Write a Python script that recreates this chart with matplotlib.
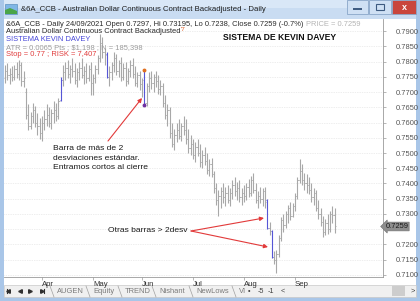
import matplotlib

matplotlib.use("Agg")
import matplotlib.pyplot as plt  # noqa: E402
from matplotlib.patches import Rectangle, Polygon  # noqa: E402
import pandas as pd  # noqa: E402

# ---- data ----
dates = pd.bdate_range("2021-03-10", "2021-09-24")

opens = [
    0.7745, 0.7770, 0.7755, 0.7760, 0.7750, 0.7775, 0.7760, 0.7790, 0.7735, 0.7700, 0.7625, 0.7590, 0.7620, 0.7640, 0.7600, 0.7590,
    0.7565, 0.7600, 0.7610, 0.7625, 0.7600, 0.7630, 0.7640, 0.7620, 0.7675, 0.7740, 0.7765, 0.7780, 0.7760, 0.7775, 0.7770, 0.7740, 0.7765, 0.7780, 0.7755, 0.7770, 0.7745, 0.7775,
    0.7730, 0.7745, 0.7775, 0.7810, 0.7860, 0.7830, 0.7826, 0.7750, 0.7765, 0.7790, 0.7810, 0.7770, 0.7795, 0.7750, 0.7780, 0.7735, 0.7770, 0.7790, 0.7760, 0.7730, 0.7755,
    0.7725, 0.7768, 0.7665, 0.7720, 0.7745, 0.7730, 0.7750, 0.7735, 0.7710, 0.7720, 0.7665, 0.7625, 0.7640, 0.7565, 0.7530, 0.7560, 0.7575, 0.7555, 0.7590, 0.7575, 0.7545, 0.7515,
    0.7530, 0.7495, 0.7520, 0.7500, 0.7470, 0.7495, 0.7475, 0.7445, 0.7465, 0.7430, 0.7385, 0.7345, 0.7360, 0.7375, 0.7355, 0.7370, 0.7345, 0.7370, 0.7395, 0.7375, 0.7385, 0.7355,
    0.7370, 0.7360, 0.7390, 0.7370, 0.7410, 0.7380, 0.7345, 0.7360, 0.7350, 0.7375, 0.7345, 0.7255, 0.7245, 0.7160, 0.7150, 0.7170, 0.7220, 0.7280, 0.7265, 0.7300, 0.7320, 0.7295,
    0.7325, 0.7360, 0.7410, 0.7440, 0.7410, 0.7400, 0.7395, 0.7380, 0.7355, 0.7370, 0.7320, 0.7300, 0.7275, 0.7240, 0.7270, 0.7250, 0.7300, 0.7297,
]
highs = [
    0.7790, 0.7795, 0.7780, 0.7785, 0.7790, 0.7800, 0.7805, 0.7800, 0.7770, 0.7712, 0.7660, 0.7635, 0.7665, 0.7655, 0.7630, 0.7615,
    0.7620, 0.7640, 0.7660, 0.7650, 0.7645, 0.7670, 0.7665, 0.7680, 0.7748, 0.7790, 0.7800, 0.7805, 0.7790, 0.7810, 0.7795, 0.7780, 0.7800, 0.7810, 0.7785, 0.7795, 0.7790, 0.7800,
    0.7760, 0.7790, 0.7820, 0.7890, 0.7880, 0.7845, 0.7830, 0.7785, 0.7800, 0.7830, 0.7825, 0.7805, 0.7815, 0.7795, 0.7800, 0.7780, 0.7805, 0.7810, 0.7785, 0.7765, 0.7770,
    0.7745, 0.7772, 0.7730, 0.7765, 0.7770, 0.7760, 0.7770, 0.7755, 0.7740, 0.7730, 0.7690, 0.7660, 0.7650, 0.7600, 0.7580, 0.7600, 0.7610, 0.7600, 0.7620, 0.7610, 0.7580, 0.7560,
    0.7545, 0.7535, 0.7545, 0.7530, 0.7510, 0.7520, 0.7500, 0.7480, 0.7485, 0.7440, 0.7400, 0.7380, 0.7390, 0.7400, 0.7390, 0.7395, 0.7385, 0.7410, 0.7420, 0.7405, 0.7410, 0.7385,
    0.7395, 0.7400, 0.7415, 0.7425, 0.7435, 0.7400, 0.7375, 0.7390, 0.7385, 0.7390, 0.7348, 0.7275, 0.7248, 0.7180, 0.7182, 0.7230, 0.7290, 0.7300, 0.7310, 0.7330, 0.7340, 0.7335,
    0.7370, 0.7420, 0.7480, 0.7465, 0.7435, 0.7430, 0.7420, 0.7400, 0.7385, 0.7380, 0.7345, 0.7320, 0.7295, 0.7285, 0.7300, 0.7310, 0.7325, 0.73195,
]
lows = [
    0.7730, 0.7740, 0.7725, 0.7735, 0.7740, 0.7745, 0.7740, 0.7720, 0.7715, 0.7612, 0.7575, 0.7580, 0.7600, 0.7585, 0.7560, 0.7545,
    0.7540, 0.7575, 0.7590, 0.7585, 0.7580, 0.7600, 0.7605, 0.7610, 0.7672, 0.7720, 0.7740, 0.7745, 0.7730, 0.7750, 0.7725, 0.7715, 0.7740, 0.7745, 0.7725, 0.7730, 0.7735, 0.7690,
    0.7690, 0.7730, 0.7760, 0.7800, 0.7810, 0.7790, 0.7745, 0.7720, 0.7740, 0.7765, 0.7755, 0.7750, 0.7735, 0.7740, 0.7720, 0.7725, 0.7750, 0.7745, 0.7720, 0.7715, 0.7705,
    0.7685, 0.7657, 0.7655, 0.7700, 0.7710, 0.7700, 0.7715, 0.7695, 0.7690, 0.7650, 0.7610, 0.7590, 0.7550, 0.7520, 0.7510, 0.7535, 0.7545, 0.7540, 0.7560, 0.7530, 0.7500, 0.7495,
    0.7480, 0.7470, 0.7490, 0.7455, 0.7450, 0.7460, 0.7430, 0.7425, 0.7420, 0.7370, 0.7330, 0.7295, 0.7320, 0.7335, 0.7325, 0.7335, 0.7325, 0.7350, 0.7360, 0.7345, 0.7340, 0.7330,
    0.7340, 0.7345, 0.7355, 0.7360, 0.7370, 0.7335, 0.7320, 0.7335, 0.7325, 0.7320, 0.7250, 0.7230, 0.7155, 0.7135, 0.7108, 0.7160, 0.7210, 0.7240, 0.7255, 0.7270, 0.7280, 0.7290,
    0.7310, 0.7350, 0.7400, 0.7395, 0.7380, 0.7370, 0.7365, 0.7340, 0.7330, 0.7310, 0.7285, 0.7260, 0.7225, 0.7230, 0.7235, 0.7240, 0.7270, 0.7238,
]
closes = [
    0.7770, 0.7755, 0.7760, 0.7750, 0.7775, 0.7760, 0.7790, 0.7735, 0.7745, 0.7625, 0.7590, 0.7620, 0.7640, 0.7600, 0.7590, 0.7565,
    0.7600, 0.7610, 0.7625, 0.7600, 0.7630, 0.7640, 0.7620, 0.7670, 0.7740, 0.7765, 0.7780, 0.7760, 0.7775, 0.7770, 0.7740, 0.7765, 0.7780, 0.7755, 0.7770, 0.7745, 0.7775, 0.7730,
    0.7745, 0.7775, 0.7810, 0.7860, 0.7830, 0.7820, 0.7750, 0.7765, 0.7790, 0.7810, 0.7770, 0.7795, 0.7750, 0.7780, 0.7735, 0.7770, 0.7790, 0.7760, 0.7730, 0.7755, 0.7725,
    0.7740, 0.7660, 0.7720, 0.7745, 0.7730, 0.7750, 0.7735, 0.7710, 0.7720, 0.7665, 0.7625, 0.7640, 0.7565, 0.7530, 0.7560, 0.7575, 0.7555, 0.7590, 0.7575, 0.7545, 0.7515, 0.7530,
    0.7495, 0.7520, 0.7500, 0.7470, 0.7495, 0.7475, 0.7445, 0.7465, 0.7430, 0.7385, 0.7345, 0.7360, 0.7375, 0.7355, 0.7370, 0.7345, 0.7370, 0.7395, 0.7375, 0.7385, 0.7355, 0.7370,
    0.7360, 0.7390, 0.7370, 0.7410, 0.7380, 0.7345, 0.7360, 0.7350, 0.7375, 0.7340, 0.7255, 0.7245, 0.7160, 0.7150, 0.7170, 0.7220, 0.7280, 0.7265, 0.7300, 0.7320, 0.7295, 0.7325,
    0.7360, 0.7410, 0.7440, 0.7410, 0.7400, 0.7395, 0.7380, 0.7355, 0.7370, 0.7320, 0.7300, 0.7275, 0.7240, 0.7270, 0.7250, 0.7300, 0.7297, 0.7259,
]
signal_bars = [24, 44, 60, 113, 115]   # barras > 2 desviaciones
entry_bar = 60
last_price = 0.7259
price_ticks = [0.7100 + 0.005 * k for k in range(17)]
month_names = ["Apr", "May", "Jun", "Jul", "Aug", "Sep"]
tabs = ["AUGEN", "Equity", "TREND", "Nishant", "NewLows", "VI"]

FONT = "Liberation Sans"
W, H = 420, 301
BORDER = "#a9c6e8"
BAR_GREY = "#a8a8a8"
BAR_BLUE = "#5656d6"

fig = plt.figure(figsize=(W / 100, H / 100), dpi=100)
fig.patch.set_facecolor("white")

# ---- window chrome (pixel coords) ----
frame = fig.add_axes([0, 0, 1, 1], zorder=0)
frame.set_xlim(0, W)
frame.set_ylim(H, 0)
frame.axis("off")
frame.add_patch(Rectangle((0, 0), W, 19, fc="#c9dcf2", ec="none"))
frame.add_patch(Rectangle((0, 0), W, 8, fc="#d9e7f7", ec="none"))
frame.add_patch(Rectangle((0, 0), 4, H, fc=BORDER, ec="none"))
frame.add_patch(Rectangle((W - 4, 0), 4, H, fc=BORDER, ec="none"))
frame.add_patch(Rectangle((0, H - 4), W, 4, fc=BORDER, ec="none"))
# icon
frame.add_patch(Rectangle((5, 4), 12, 10, fc="#7fb6e6", ec="#5d8fbf", lw=0.5))
frame.add_patch(Polygon([(5, 14), (5, 10), (10, 8), (17, 11), (17, 14)], fc="#4aa548", ec="none"))
frame.text(21, 9.5, "&6A_CCB - Australian Dollar Continuous Contract Backadjusted - Daily",
           fontsize=5.6, family=FONT, color="#1e1e1e", va="center", ha="left")
# window buttons
for x0, w0, fc in [(347, 21, "#cfe0f4"), (369, 22, "#cfe0f4"), (392, 24, "#c9463d")]:
    frame.add_patch(Rectangle((x0, 0), w0, 14, fc=fc, ec="#8aa6c8", lw=0.6))
frame.plot([353, 362], [9, 9], color="#3d5a80", lw=1.4, solid_capstyle="butt")
frame.add_patch(Rectangle((376, 4), 8, 6, fc="none", ec="#3d5a80", lw=0.8))
frame.text(404, 7.2, "x", fontsize=6.5, family=FONT, weight="bold", color="white",
           ha="center", va="center")

# tab bar
frame.add_patch(Rectangle((4, 285), W - 8, 12, fc="#f0f0f0", ec="#c8c8c8", lw=0.5))
for xb, mk in [(8, "<"), (20, "<"), (30, ">"), (42, ">")]:
    frame.plot([xb], [291], marker=mk, ms=2.6, color="#303030", mec="#303030")
frame.plot([6.5, 6.5], [289, 293], color="#303030", lw=0.8)
frame.plot([43.8, 43.8], [289, 293], color="#303030", lw=0.8)
tab_x = [57, 93, 125, 159, 196, 239]
for tx, name in zip(tab_x, tabs):
    frame.plot([tx - 7, tx - 3], [286, 297], color="#a0a0a0", lw=0.5)
    frame.text(tx, 291.5, name, fontsize=5.4, family=FONT, color="#7a7a7a",
               ha="left", va="center")
for tx, s in [(249, "\u2022"), (261, "-5"), (271, "-1"), (283, "<")]:
    frame.text(tx, 291.5, s, fontsize=5.2, family=FONT, color="#404040", ha="center", va="center")
frame.add_patch(Rectangle((392, 286), 13, 10, fc="#cdcdcd", ec="none"))
frame.text(413, 291.5, ">", fontsize=5.4, family=FONT, color="#404040", ha="center", va="center")

# ---- price chart ----
px_left, px_right, px_top, px_bot = 4, 383, 19, 277
ax = fig.add_axes([px_left / W, 1 - px_bot / H, (px_right - px_left) / W, (px_bot - px_top) / H],
                  zorder=1)
ax.patch.set_alpha(0)
ax.set_xlim(-0.43, 162.9)
ax.set_ylim(0.70934, 0.79394)

xs = list(range(len(dates)))
colors = [BAR_BLUE if i in signal_bars else BAR_GREY for i in xs]
ax.vlines(xs, lows, highs, colors=colors, lw=0.8, zorder=3)
ax.hlines(opens, [x - 0.5 for x in xs], xs, colors=colors, lw=0.6, zorder=3)
ax.hlines(closes, xs, [x + 0.5 for x in xs], colors=colors, lw=0.6, zorder=3)
ax.plot([entry_bar], [highs[entry_bar]], "o", ms=1.8, color="#e07020", zorder=4)
ax.plot([entry_bar], [lows[entry_bar]], "o", ms=1.8, color="#7030a0", zorder=4)

for s in ["left", "top"]:
    ax.spines[s].set_visible(False)
ax.spines["right"].set_color("#9a9a9a")
ax.spines["bottom"].set_color("#9a9a9a")
ax.spines["right"].set_linewidth(0.6)
ax.spines["bottom"].set_linewidth(0.6)

ax.yaxis.tick_right()
ax.set_yticks(price_ticks)
# the 0.7250 label sits under the last-price marker, as in the platform
ax.set_yticklabels(["" if abs(p - 0.725) < 1e-6 else f"{p:.4f}" for p in price_ticks])
ax.tick_params(axis="y", length=2, width=0.5, color="#9a9a9a", pad=7,
               labelsize=5.4, labelcolor="#555555")
for lbl in ax.get_yticklabels():
    lbl.set_family(FONT)
ax.grid(axis="y", color="#dcdcdc", lw=0.5, ls=(0, (1, 1.5)))

month_pos = [i for i in xs[1:] if dates[i].month != dates[i - 1].month]
ax.set_xticks(month_pos)
ax.set_xticklabels(month_names)
ax.tick_params(axis="x", length=2.5, width=0.5, color="#9a9a9a", pad=0.5,
               labelsize=5.6, labelcolor="#303030")
for lbl in ax.get_xticklabels():
    lbl.set_family(FONT)
    lbl.set_ha("left")

ax.text(1.006, last_price, f"{last_price:.4f}", transform=ax.get_yaxis_transform(),
        fontsize=5.4, family=FONT, color="#1a1a1a", ha="left", va="center", clip_on=False,
        bbox=dict(boxstyle="larrow,pad=0.12", fc="#8e8e8e", ec="#707070", lw=0.4), zorder=5)

# ---- texts and arrows on top ----
top = fig.add_axes([0, 0, 1, 1], zorder=2)
top.set_xlim(0, W)
top.set_ylim(H, 0)
top.axis("off")
fs = 5.4
t1 = top.text(6, 24, "&6A_CCB - Daily 24/09/2021 Open 0.7297, Hi 0.73195, Lo 0.7238, "
              "Close 0.7259 (-0.7%) ", fontsize=fs, family=FONT, color="#2a2a2a",
              ha="left", va="center")
top.annotate("PRICE = 0.7259", xy=(1, 0.5), xycoords=t1, fontsize=fs, family=FONT,
             color="#b4b4b4", ha="left", va="center")
t2 = top.text(6, 31.5, "Australian Dollar Continuous Contract Backadjusted", fontsize=fs,
              family=FONT, color="#2a2a2a", ha="left", va="center")
top.annotate("'7", xy=(1, 0.75), xycoords=t2, fontsize=4.6, family=FONT,
             color="#e0602a", ha="left", va="center")
top.text(6, 39.5, "SISTEMA KEVIN DAVEY", fontsize=fs, family=FONT, color="#4646d8",
         ha="left", va="center")
top.text(6, 47.5, "ATR = 0.0065 Pts ; $1,198 ; N = 185,398", fontsize=fs, family=FONT,
         color="#9c9c9c", ha="left", va="center")
top.text(6, 55, "Stop = 0.77 ; RISK = 7,407", fontsize=fs, family=FONT, color="#e03c3c",
         ha="left", va="center")
top.text(223, 37, "SISTEMA DE KEVIN DAVEY", fontsize=6.2, family=FONT, weight="bold",
         color="#111111", ha="left", va="center")

top.text(53, 145.5, "Barra de más de 2\ndesviaciones estándar.\nEntramos cortos al cierre",
         fontsize=6.1, family=FONT, color="#1a1a1a", ha="left", va="top", linespacing=1.45)
arrow = dict(arrowstyle="-|>", color="#e23a3a", lw=0.8, mutation_scale=6,
             shrinkA=0, shrinkB=0)
top.annotate("", xy=(142, 98), xytext=(108, 141), arrowprops=arrow)
top.text(108, 231, "Otras barras > 2desv", fontsize=6.1, family=FONT, color="#1a1a1a",
         ha="left", va="center")
top.annotate("", xy=(264, 218), xytext=(191, 231), arrowprops=arrow)
top.annotate("", xy=(268, 247), xytext=(191, 231), arrowprops=arrow)

fig.savefig("out.png", dpi=100)
